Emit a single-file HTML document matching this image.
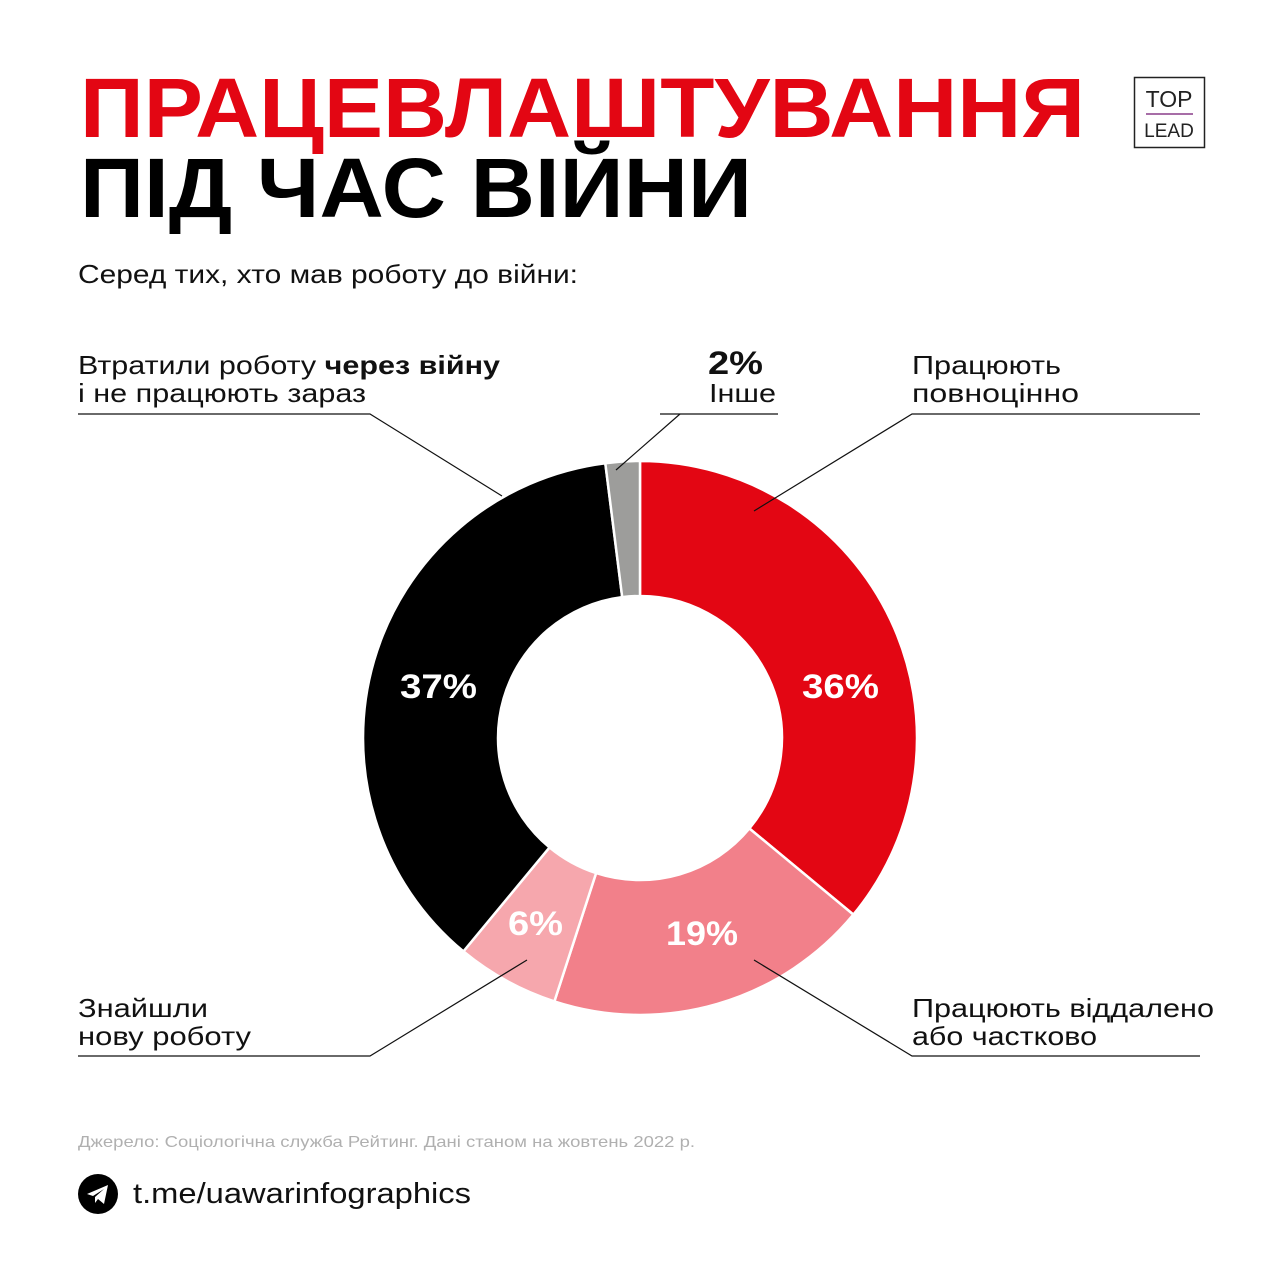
<!DOCTYPE html>
<html><head><meta charset="utf-8"><style>
html,body{margin:0;padding:0;background:#fff;}
svg{display:block;}
text{font-family:"Liberation Sans","DejaVu Sans",sans-serif;}
</style></head><body>
<svg width="1280" height="1280" viewBox="0 0 1280 1280" xmlns="http://www.w3.org/2000/svg">
<rect width="1280" height="1280" fill="#fff"/>
<text x="80" y="137" font-size="84" font-weight="bold" fill="#e30613" textLength="1005" lengthAdjust="spacingAndGlyphs">ПРАЦЕВЛАШТУВАННЯ</text>
<text x="80" y="217" font-size="84" font-weight="bold" fill="#000" textLength="672" lengthAdjust="spacingAndGlyphs">ПІД ЧАС ВІЙНИ</text>
<rect x="1134.5" y="77.5" width="70" height="70" fill="none" stroke="#222" stroke-width="1.5"/>
<text x="1169" y="107" font-size="23" text-anchor="middle" fill="#222">TOP</text>
<line x1="1146" y1="114" x2="1193" y2="114" stroke="#8a3d8a" stroke-width="1.5"/>
<text x="1169" y="137" font-size="19" text-anchor="middle" fill="#222">LEAD</text>
<text x="78" y="283" font-size="26" fill="#111" textLength="500" lengthAdjust="spacingAndGlyphs">Серед тих, хто мав роботу до війни:</text>

<g stroke="#fff" stroke-width="2.5">
<path d="M640,461 A277,277 0 0 1 853.4,914.6 L749.4,828.5 A142,142 0 0 0 640,596 Z" fill="#e30613"/>
<path d="M853.4,914.6 A277,277 0 0 1 554.4,1001.4 L596.1,873.1 A142,142 0 0 0 749.4,828.5 Z" fill="#f2808a"/>
<path d="M554.4,1001.4 A277,277 0 0 1 463.4,951.4 L549.5,847.4 A142,142 0 0 0 596.1,873.1 Z" fill="#f6a7ad"/>
<path d="M463.4,951.4 A277,277 0 0 1 605.3,463.2 L622.2,597.1 A142,142 0 0 0 549.5,847.4 Z" fill="#000"/>
<path d="M605.3,463.2 A277,277 0 0 1 640,461 L640,596 A142,142 0 0 0 622.2,597.1 Z" fill="#9d9d9b"/>
</g>
<g font-size="34" font-weight="bold" fill="#fff">
<text x="400" y="698" textLength="77" lengthAdjust="spacingAndGlyphs">37%</text>
<text x="802" y="698" textLength="77" lengthAdjust="spacingAndGlyphs">36%</text>
<text x="666" y="945" textLength="72" lengthAdjust="spacingAndGlyphs">19%</text>
<text x="508" y="935" textLength="55" lengthAdjust="spacingAndGlyphs">6%</text>
</g>
<g stroke="#111" stroke-width="1.2" fill="none">
<polyline points="78,414 370,414 502,496"/>
<polyline points="660,414 778,414"/>
<line x1="680" y1="414" x2="616" y2="470"/>
<polyline points="1200,414 912,414 754,511"/>
<polyline points="78,1056 370,1056 527,960"/>
<polyline points="1200,1056 912,1056 754,960"/>
</g>
<g font-size="26" fill="#111">
<text x="78" y="374" textLength="422" lengthAdjust="spacingAndGlyphs">Втратили роботу <tspan font-weight="bold">через війну</tspan></text>
<text x="78" y="402" textLength="288" lengthAdjust="spacingAndGlyphs">і не працюють зараз</text>
<text x="708" y="374" font-size="32" font-weight="bold" textLength="55" lengthAdjust="spacingAndGlyphs">2%</text>
<text x="709" y="402" textLength="67" lengthAdjust="spacingAndGlyphs">Інше</text>
<text x="912" y="374" textLength="149" lengthAdjust="spacingAndGlyphs">Працюють</text>
<text x="912" y="402" textLength="167" lengthAdjust="spacingAndGlyphs">повноцінно</text>
<text x="78" y="1017" textLength="130" lengthAdjust="spacingAndGlyphs">Знайшли</text>
<text x="78" y="1045" textLength="173" lengthAdjust="spacingAndGlyphs">нову роботу</text>
<text x="912" y="1017" textLength="302" lengthAdjust="spacingAndGlyphs">Працюють віддалено</text>
<text x="912" y="1045" textLength="185" lengthAdjust="spacingAndGlyphs">або частково</text>
</g>
<text x="78" y="1147" font-size="16" fill="#b0b0b0" textLength="617" lengthAdjust="spacingAndGlyphs">Джерело: Соціологічна служба Рейтинг. Дані станом на жовтень 2022 р.</text>
<circle cx="98" cy="1194" r="20" fill="#000"/>
<path d="M87,1194 L108,1185 L104,1204 L98,1199 L95,1203 L95,1197 L104,1189 L93,1196 Z" fill="#fff"/>
<text x="133" y="1203" font-size="29" fill="#111" textLength="338" lengthAdjust="spacingAndGlyphs">t.me/uawarinfographics</text>
</svg>
</body></html>
